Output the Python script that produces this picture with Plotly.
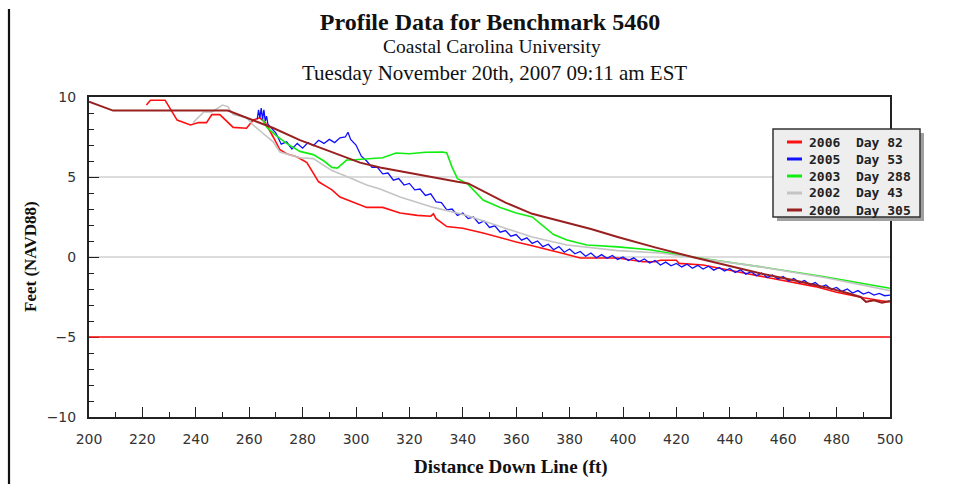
import plotly.graph_objects as go

# ---------------- data ----------------
years = ["2006", "2005", "2003", "2002", "2000"]
days = [82, 53, 288, 43, 305]
colors = ["#ff1010", "#1010ff", "#10ee10", "#c4c4c4", "#992020"]
widths = [1.6, 1.3, 1.6, 1.6, 2.0]

x_2006 = [221.5, 223, 228.5, 231, 233, 238, 241, 244, 246, 249, 252, 254, 259, 261.5, 264, 266,
          269, 271.5, 274, 278, 281.6, 284, 286, 289, 291, 294, 298, 304, 310, 316.5, 323, 328,
          329, 330, 334, 340, 347.6, 354, 360, 366, 372.6, 378, 384, 398, 407.5, 412, 414, 420,
          421, 430, 439, 450, 464, 472, 480, 490, 499, 500]
y_2006 = [9.5, 9.8, 9.8, 9.06, 8.56, 8.25, 8.4, 8.4, 8.9, 8.9, 8.4, 8.1, 8.05, 8.56, 8.7, 8.4,
          7.5, 6.7, 6.45, 6.25, 5.9, 5.2, 4.7, 4.4, 4.2, 3.75, 3.5, 3.1, 3.1, 2.75, 2.6, 2.55,
          2.7, 2.4, 1.9, 1.8, 1.5, 1.2, 0.94, 0.7, 0.44, 0.2, -0.06, -0.06, -0.3, -0.3, -0.2, -0.2,
          -0.4, -0.5, -0.8, -1.15, -1.56, -1.85, -2.2, -2.55, -2.8, -2.8]

x_2005 = [263, 263.5, 264, 264.5, 265, 265.5, 266, 266.5, 267,
          268, 270, 272, 274, 276, 278, 280, 282, 284, 286, 288, 290, 292, 294, 296, 297, 298,
          300, 302, 304, 306, 308, 310, 312, 314, 316, 318, 320, 322, 324, 326, 328, 330, 332,
          334, 336, 338, 340, 342, 344, 346, 348, 350, 352, 354, 356, 358, 360, 362, 364, 366,
          368, 370, 372, 374, 376, 378, 380, 382, 384, 386, 388, 390, 392, 394, 396, 398, 400,
          402, 404, 406, 408, 410, 412, 414, 416, 418, 420, 422, 424, 426, 428, 430, 432, 434,
          436, 438, 440, 442, 444, 446, 448, 450, 452, 454, 456, 458, 460, 462, 464, 466, 468,
          470, 472, 474, 476, 478, 480, 482, 484, 486, 488, 490, 492, 494, 496, 498, 500]
y_2005 = [8.6, 9.2, 8.7, 9.3, 8.6, 9.2, 8.5, 8.8, 8.3,
          8.1, 7.75, 7.05, 7.2, 6.75, 7.1, 6.8, 7.15, 6.95, 7.3, 7.1, 7.35, 7.15, 7.45, 7.5, 7.8, 7.35,
          7.0, 6.3, 6.0, 5.6, 5.6, 5.2, 5.25, 4.8, 4.9, 4.5, 4.6, 4.2, 4.25, 3.85, 3.95, 3.45, 3.4,
          2.95, 3.0, 2.6, 2.75, 2.4, 2.5, 2.1, 2.25, 1.85, 1.95, 1.55, 1.65, 1.3, 1.4, 1.05, 1.2, 0.85,
          1.0, 0.65, 0.8, 0.45, 0.65, 0.3, 0.5, 0.2, 0.35, 0.05, 0.25, -0.05, 0.15, -0.08, 0.1, -0.15, 0.0,
          -0.22, -0.05, -0.3, -0.12, -0.38, -0.22, -0.5, -0.32, -0.55, -0.4, -0.62, -0.45, -0.7, -0.52, -0.75, -0.58, -0.82,
          -0.65, -0.88, -0.72, -0.97, -0.8, -1.07, -0.92, -1.17, -1.0, -1.28, -1.12, -1.38, -1.22, -1.5, -1.35, -1.6, -1.47,
          -1.74, -1.6, -1.88, -1.75, -2.02, -1.9, -2.15, -2.0, -2.25, -2.1, -2.32, -2.2, -2.38, -2.28, -2.42, -2.38]

x_2003 = [265, 266.7, 270, 274, 279, 284, 288, 291, 293, 296.5, 298, 302.6, 310, 315, 320, 326,
          332.6, 334, 336, 338, 341.6, 347.6, 354, 360, 366, 374, 379, 386.5, 398, 410, 426, 451, 476, 500]
y_2003 = [8.6, 8.1, 7.6, 7.1, 6.6, 6.4, 6.0, 5.6, 5.56, 6.06, 6.06, 6.1, 6.2, 6.5, 6.45, 6.55,
          6.56, 6.5, 5.6, 4.9, 4.6, 3.56, 3.1, 2.75, 2.5, 1.4, 1.06, 0.75, 0.63, 0.45, 0.0, -0.6, -1.25, -1.95]

x_2002 = [239, 243, 246, 250, 252, 254, 259, 261.5, 265, 269, 271.5, 275, 279, 284, 291, 297,
          304, 309, 316.5, 329, 341.6, 354, 366, 379, 398, 414, 430, 451, 476, 500]
y_2002 = [8.4, 9.06, 9.06, 9.5, 9.4, 8.9, 8.7, 8.25, 7.75, 7.2, 6.56, 6.4, 6.2, 6.15, 5.4, 5.0,
          4.5, 4.25, 3.75, 3.1, 2.6, 1.9, 1.25, 0.75, 0.4, 0.25, -0.1, -0.6, -1.3, -2.1]

x_2000 = [200, 209, 252, 261.5, 269, 279, 291, 301.5, 309, 320, 338, 342, 348, 356, 366, 376,
          388, 398, 412, 426, 440, 452, 464, 476, 484, 489, 491, 494, 497, 500]
y_2000 = [9.7, 9.15, 9.15, 8.56, 8.06, 7.3, 6.56, 5.9, 5.6, 5.25, 4.7, 4.6, 4.1, 3.4, 2.7, 2.25,
          1.75, 1.25, 0.6, 0.0, -0.55, -1.05, -1.45, -1.9, -2.25, -2.5, -2.8, -2.7, -2.85, -2.75]

ref_level = -5.0

series_x = [x_2006, x_2005, x_2003, x_2002, x_2000]
series_y = [y_2006, y_2005, y_2003, y_2002, y_2000]

title = "Profile Data for Benchmark 5460"
subtitle1 = "Coastal Carolina University"
subtitle2 = "Tuesday November 20th, 2007 09:11 am EST"
x_title = "Distance Down Line (ft)"
y_title = "Feet (NAVD88)"

# ---------------- layout helpers (page pixel -> paper fraction) ----------------
W, H = 956, 484
L, R, T, B = 89, 890, 97, 417


def xp(px):
    return px / W


def yp(py):
    return 1 - py / H


fig = go.Figure()

for i in range(len(years)):
    fig.add_trace(go.Scatter(
        x=series_x[i], y=series_y[i], mode="lines",
        name=f"{years[i]}  Day {days[i]}",
        line=dict(color=colors[i], width=widths[i]),
        showlegend=False,
    ))

fig.add_hline(y=ref_level, line=dict(color="#ff1010", width=1.5), layer="above")

shapes = []
# outer frame (left and top edges of the surrounding page box)
shapes.append(dict(type="line", xref="paper", yref="paper", x0=xp(9), x1=1, y0=yp(9), y1=yp(9),
                   line=dict(color="#111", width=2.2), layer="above"))
shapes.append(dict(type="line", xref="paper", yref="paper", x0=xp(9), x1=xp(9), y0=0, y1=yp(9),
                   line=dict(color="#111", width=2.2), layer="above"))
# legend shadow and box
shapes.append(dict(type="rect", xref="paper", yref="paper", x0=xp(777), x1=xp(924), y0=yp(221), y1=yp(133),
                   fillcolor="#a0a0a0", line=dict(width=0), layer="above"))
shapes.append(dict(type="rect", xref="paper", yref="paper", x0=xp(773), x1=xp(920), y0=yp(217), y1=yp(129),
                   fillcolor="#eeeeee", line=dict(color="#333", width=1.5), layer="above"))

annotations = []
row_y = [142, 159, 176, 193, 210]
for i in range(len(years)):
    shapes.append(dict(type="line", xref="paper", yref="paper", x0=xp(787), x1=xp(802),
                       y0=yp(row_y[i]), y1=yp(row_y[i]), line=dict(color=colors[i], width=3), layer="above"))
    annotations.append(dict(xref="paper", yref="paper", x=xp(807), y=yp(row_y[i]), xanchor="left",
                            yanchor="middle", showarrow=False,
                            text=f"<b>{years[i]}  Day {days[i]}</b>".replace("  ", "&nbsp;&nbsp;"),
                            font=dict(family="DejaVu Sans Mono", size=13, color="#222")))

serif = "Liberation Serif, Times New Roman, serif"
annotations.append(dict(xref="paper", yref="paper", x=xp(492), y=yp(47), xanchor="center", yanchor="middle",
                        showarrow=False, text=subtitle1, font=dict(family=serif, size=19.5, color="#111")))
annotations.append(dict(xref="paper", yref="paper", x=xp(494), y=yp(73), xanchor="center", yanchor="middle",
                        showarrow=False, text=subtitle2, font=dict(family=serif, size=21, color="#111")))
annotations.append(dict(xref="paper", yref="paper", x=xp(511), y=yp(467), xanchor="center", yanchor="middle",
                        showarrow=False, text=f"<b>{x_title}</b>", font=dict(family=serif, size=19, color="#111")))
annotations.append(dict(xref="paper", yref="paper", x=xp(30), y=yp(257), xanchor="center", yanchor="middle",
                        showarrow=False, textangle=-90, text=f"<b>{y_title}</b>",
                        font=dict(family=serif, size=17, color="#111")))

tickfont = dict(family="DejaVu Sans", size=14, color="#333")

fig.update_layout(
    width=W, height=H,
    margin=dict(l=0, r=0, t=0, b=0, pad=0),
    paper_bgcolor="white", plot_bgcolor="white",
    title=dict(text=f"<b>{title}</b>", x=xp(490), xanchor="center", xref="paper",
               y=yp(22), yanchor="middle", yref="container",
               font=dict(family=serif, size=24, color="#111")),
    shapes=shapes, annotations=annotations,
    showlegend=False,
    xaxis=dict(domain=[L / W, R / W], range=[200, 500], dtick=20, tick0=200, ticks="inside", ticklen=10,
               tickwidth=1.3, automargin=False,
               tickcolor="#222", showgrid=False, zeroline=False, showline=True, linecolor="#222",
               linewidth=2, mirror=True, tickfont=tickfont, ticklabelstandoff=8,
               minor=dict(dtick=10, ticks="inside", ticklen=5, tickwidth=1.3, tickcolor="#222", showgrid=False)),
    yaxis=dict(domain=[1 - B / H, 1 - T / H], range=[-10, 10], dtick=5, tick0=0, ticks="inside", ticklen=10,
               tickwidth=1.3, automargin=False,
               tickcolor="#222", showgrid=True, gridcolor="#dcdcdc", gridwidth=1.5, zeroline=False,
               showline=True, linecolor="#222", linewidth=2, mirror=True, tickfont=tickfont,
               ticklabelstandoff=8,
               minor=dict(dtick=1, ticks="inside", ticklen=5, tickwidth=1.3, tickcolor="#222", showgrid=False)),
)

fig.write_html("out.html", config={"displayModeBar": False})
